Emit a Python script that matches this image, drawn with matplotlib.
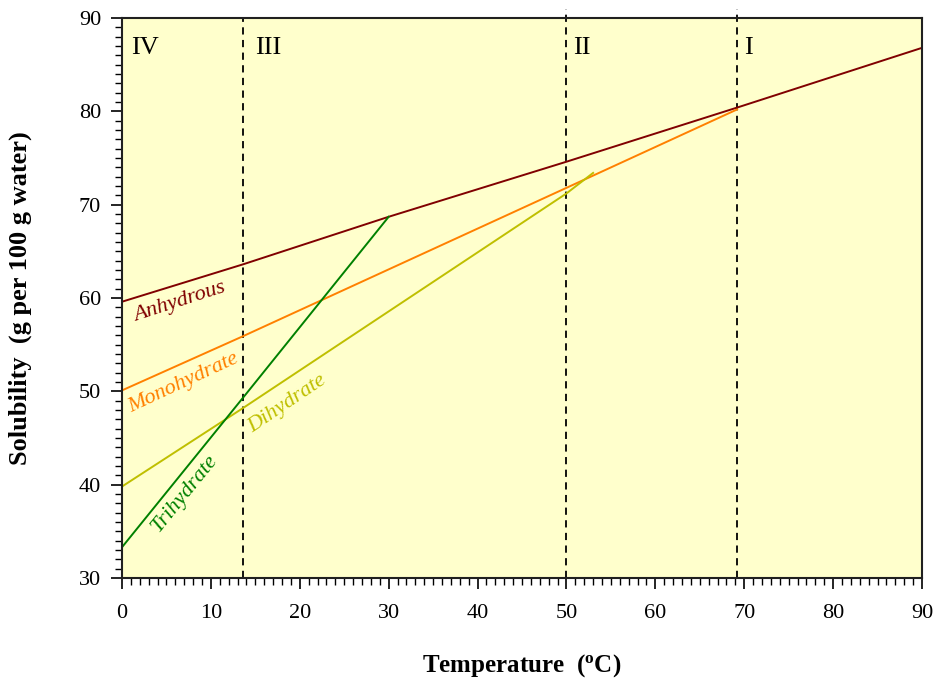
import numpy as np
import matplotlib
matplotlib.use("Agg")
import matplotlib.pyplot as plt
from matplotlib.ticker import MultipleLocator

plt.rcParams["font.family"] = ["Liberation Serif", "DejaVu Serif"]

# solubility curves (temperature in degC, solubility in g / 100 g water)
anhydrous_t = [0, 13.6, 30, 50, 69.2, 90]
anhydrous_s = [59.6, 63.6, 68.7, 74.6, 80.4, 86.8]

monohydrate_t = [0, 13.6, 50, 69.2]
monohydrate_s = [50.1, 55.9, 71.8, 80.2]

dihydrate_t = [0, 13.6, 50, 53]
dihydrate_s = [39.8, 48.2, 71.2, 73.4]

trihydrate_t = [0, 13.6, 30]
trihydrate_s = [33.3, 49.3, 68.7]

# transition temperatures between the regions
transitions = [13.6, 50.0, 69.2]
regions = ["IV", "III", "II", "I"]
region_x = [1.0, 15.0, 50.8, 70.0]

fig = plt.figure(figsize=(9.35, 6.78), dpi=100)
ax = fig.add_axes([0.1305, 0.1475, 0.8556, 0.826])
ax.set_facecolor("#FFFFCC")

ax.plot(anhydrous_t, anhydrous_s, color="#800000", lw=1.4)
ax.plot(monohydrate_t, monohydrate_s, color="#FF8000", lw=1.4)
ax.plot(dihydrate_t, dihydrate_s, color="#BFBF00", lw=1.4)
ax.plot(trihydrate_t, trihydrate_s, color="#008000", lw=1.4)

tops = [90, 91, 91]
for t, top in zip(transitions, tops):
    ax.plot([t, t], [30, top], color="black", lw=1.3, ls=(0, (4, 3)), clip_on=False, zorder=1)

for name, x in zip(regions, region_x):
    ax.text(x, 86.8, name, fontsize=19, ha="left", va="center")

lbl = dict(fontsize=16, style="italic", ha="center", va="center", rotation_mode="anchor")
ax.text(6.5, 59.5, "Anhydrous", color="#800000", rotation=18, **lbl)
ax.text(6.9, 50.9, "Monohydrate", color="#FF8000", rotation=25, **lbl)
ax.text(18.6, 48.7, "Dihydrate", color="#BFBF00", rotation=34, **lbl)
ax.text(7.0, 39.0, "Trihydrate", color="#008000", rotation=51, **lbl)

ax.set_xlim(0, 90)
ax.set_ylim(30, 90)
ax.xaxis.set_major_locator(MultipleLocator(10))
ax.xaxis.set_minor_locator(MultipleLocator(1))
ax.yaxis.set_major_locator(MultipleLocator(10))
ax.yaxis.set_minor_locator(MultipleLocator(1))
ax.tick_params(which="major", direction="out", length=8, width=1.2, labelsize=16)
ax.tick_params(which="minor", direction="out", length=5, width=1.0)
ax.tick_params(axis="x", which="major", pad=11)
ax.tick_params(axis="y", which="major", pad=7)
for s in ax.spines.values():
    s.set_linewidth(1.5)
    s.set_color("#202020")

ax.set_xlabel("Temperature  ($\\mathregular{^o}$C)", fontsize=18, fontweight="bold", labelpad=21)
ax.set_ylabel("Solubility  (g per 100 g water)", fontsize=19, fontweight="bold", labelpad=34)

fig.savefig("out.png", dpi=100)
